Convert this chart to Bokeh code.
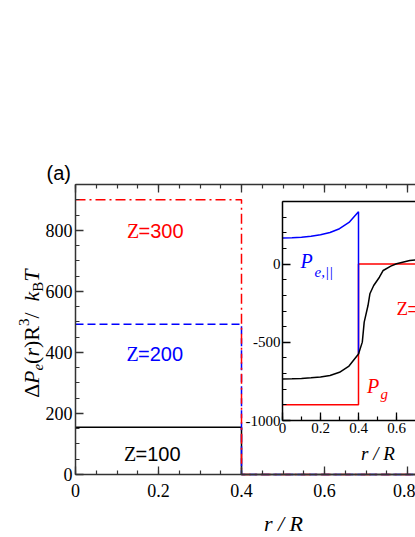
from math import pi
from bokeh.plotting import figure
from bokeh.models import (Range1d, LinearAxis, SingleIntervalTicker, FixedTicker,
                          CustomJSTickFormatter, Label)
from bokeh.embed import file_html
from bokeh.resources import INLINE

# ---------------- data ----------------
r_step = [0.0, 0.4, 0.4, 1.0]
dp_z100 = [155, 155, 0, 0]
dp_z200 = [492, 492, 0, 0]
dp_z300 = [900, 900, 0, 0]

# inset
r_par = [0.0, 0.05, 0.1, 0.15, 0.2, 0.25, 0.3, 0.35, 0.4, 0.4]
pe_par = [166, 168, 172, 178, 187, 202, 226, 266, 334, -575]
r_tot = [0.0, 0.05, 0.1, 0.15, 0.2, 0.25, 0.3, 0.35, 0.4, 0.42, 0.43, 0.45,
         0.46, 0.48, 0.51, 0.53, 0.57, 0.6, 0.67, 0.7, 0.8]
p_tot = [-734, -733, -731, -727, -722, -712, -692, -652, -575, -499, -371, -265,
         -190, -137, -84, -41, -13, 2, 23, 27, 32]
r_g = [0.0, 0.4, 0.4, 1.0]
p_g = [-900, -900, 0, 0]

main_x_lim = [0.0, 1.0]
main_y_lim = [0.0, 950.0]
inset_x_lim = [0.0, 1.0]
inset_y_lim = [-1000.0, 400.0]

z_letter = "Z"
z_values = ["=300", "=200", "=100"]

BLUE = "#0000ff"
RED = "#ff0000"
AXC = "#333333"
SERIF = "Liberation Serif"
SANS = "Liberation Sans"

W, H = 415, 537

# pixel boxes (canvas coordinates, y downwards)
M_L, M_R, M_T, M_B = 75, 490, 184, 474      # main plot box (right part is cut by the page)
I_L, I_R, I_T, I_B = 282, 472, 201, 420     # inset box


def canvas_range(d0, d1, p0, p1, total):
    k = (d1 - d0) / (p1 - p0)
    return Range1d(d0 - p0 * k, d0 + (total - p0) * k)


p = figure(width=W, height=H, x_range=Range1d(0, W), y_range=Range1d(0, H),
           output_backend="svg", toolbar_location=None,
           x_axis_type=None, y_axis_type=None,
           min_border_left=0, min_border_right=0, min_border_top=0, min_border_bottom=0,
           outline_line_color=None, background_fill_color="white",
           border_fill_color="white")
p.title = None
p.grid.visible = False
p.extra_x_ranges = {
    "mx": canvas_range(main_x_lim[0], main_x_lim[1], M_L, M_R, W),
    "ix": canvas_range(inset_x_lim[0], inset_x_lim[1], I_L, I_R, W),
}
p.extra_y_ranges = {
    "my": canvas_range(main_y_lim[0], main_y_lim[1], H - M_B, H - M_T, H),
    "iy": canvas_range(inset_y_lim[0], inset_y_lim[1], H - I_B, H - I_T, H),
}

fmt_dec = CustomJSTickFormatter(code="return Math.abs(tick) < 1e-9 ? '0' : tick.toFixed(1);")
fmt_int = CustomJSTickFormatter(code="return tick.toFixed(0);")


def make_axis(xr, yr, loc, bounds, ticker, size, standoff, color=AXC, labels=True):
    ax = LinearAxis(x_range_name=xr, y_range_name=yr, fixed_location=loc,
                    bounds=bounds, ticker=ticker)
    ax.axis_line_color = color
    ax.axis_line_width = 1.5
    ax.major_tick_line_color = color
    ax.minor_tick_line_color = color
    ax.major_tick_line_width = 1.3
    ax.minor_tick_line_width = 1.2
    ax.major_tick_in = 8
    ax.major_tick_out = 0
    ax.minor_tick_in = 4
    ax.minor_tick_out = 0
    ax.major_label_text_font = SERIF
    ax.major_label_text_font_style = "normal"
    ax.major_label_text_font_size = size
    ax.major_label_text_color = "black" if labels else None
    ax.major_label_standoff = standoff
    return ax


# ----- main plot lines -----
kw_m = dict(x_range_name="mx", y_range_name="my", line_width=1.5)
p.line(r_step, dp_z100, line_color="black", **kw_m)
p.line(r_step, dp_z200, line_color=BLUE, line_dash="8 4", **kw_m)
p.line(r_step, dp_z300, line_color=RED, line_dash="10 4 2 4", **kw_m)

# ----- main axes -----
xt = SingleIntervalTicker(interval=0.2, num_minor_ticks=4)
yt = SingleIntervalTicker(interval=200, num_minor_ticks=4)
ax_b = make_axis("mx", "my", main_y_lim[0], tuple(main_x_lim), xt, "18px", 9)
ax_b.formatter = fmt_dec
ax_l = make_axis("mx", "my", main_x_lim[0], tuple(main_y_lim), yt, "18px", 3)
ax_l.formatter = fmt_int
ax_t = make_axis("mx", "my", main_y_lim[1], tuple(main_x_lim),
                 SingleIntervalTicker(interval=0.2, num_minor_ticks=4), "1px", 0, labels=False)
p.add_layout(ax_b, "below")
p.add_layout(ax_l, "left")
p.add_layout(ax_t, "above")

# ----- inset -----
kw_i = dict(x_range_name="ix", y_range_name="iy")
p.quad(left=inset_x_lim[0], right=inset_x_lim[1], bottom=inset_y_lim[0],
       top=inset_y_lim[1], fill_color="white", line_color=None, **kw_i)
p.line(r_g, p_g, line_color=RED, line_width=1.5, **kw_i)
p.line(r_par, pe_par, line_color=BLUE, line_width=1.5, **kw_i)
p.line(r_tot, p_tot, line_color="black", line_width=1.5, **kw_i)

ix_b = make_axis("ix", "iy", inset_y_lim[0], tuple(inset_x_lim),
                 SingleIntervalTicker(interval=0.2, num_minor_ticks=2), "15px", 2, "black")
ix_b.formatter = fmt_dec
iy_l = make_axis("ix", "iy", inset_x_lim[0], tuple(inset_y_lim),
                 SingleIntervalTicker(interval=500, num_minor_ticks=5), "15px", 2, "black")
iy_l.formatter = fmt_int
ix_t = make_axis("ix", "iy", inset_y_lim[1], tuple(inset_x_lim), FixedTicker(ticks=[]),
                 "1px", 0, "black", labels=False)
p.add_layout(ix_b, "below")
p.add_layout(iy_l, "left")
p.add_layout(ix_t, "above")


# ----- texts (canvas pixel coordinates, y measured from the top) -----
def lab(x, y, text, font=SERIF, size="20px", color="black", style="normal",
        align="left", angle=0.0, baseline="alphabetic"):
    p.add_layout(Label(x=x, y=H - y, text=text, text_font=font, text_font_size=size,
                       text_color=color, text_font_style=style, text_align=align,
                       text_baseline=baseline, angle=angle))


for (zx, zy, num, col) in [(126.5, 230, z_values[0], RED),
                           (126.0, 353, z_values[1], BLUE),
                           (123.5, 453, z_values[2], "black")]:
    lab(zx, zy, z_letter, SERIF, "20px", col)
    lab(zx + 11.5, zy, num, SANS, "20px", col)

lab(46, 172, "(a)", SANS, "20px")
lab(283, 523, "r / R", SERIF, "22px", style="italic", align="center")

# rotated y-axis title, piece by piece (anchored at each piece's centre)
pieces = [("Δ", "normal", 22, 0, 0.612),
          ("P", "italic", 22, 0, 0.611),
          ("e", "italic", 15, 5, 0.444),
          ("(", "normal", 22, 0, 0.333),
          ("r", "italic", 22, 0, 0.389),
          (")", "normal", 22, 0, 0.333),
          ("R", "normal", 22, 0, 0.667),
          ("3", "normal", 15, -9, 0.5),
          (" / ", "normal", 22, 0, 0.778),
          ("k", "italic", 22, 0, 0.444),
          ("B", "normal", 15, 5, 0.667),
          ("T", "italic", 22, 0, 0.556)]
cur = 397.0
base_x = 38.0
for txt, st, sz, dx, w in pieces:
    cx = base_x + dx - 0.34 * sz
    cy = cur - w * sz / 2.0
    lab(cx, cy, txt, SERIF, f"{sz}px", style=st, angle=pi / 2,
        align="center", baseline="middle")
    cur -= w * sz

lab(300, 260, "P", SERIF, "20px", BLUE, "italic")
lab(314, 271.5, "e,||", SERIF, "15px", BLUE, "italic")
lab(366.5, 385, "P", SERIF, "20px", RED, "italic")
lab(380, 393, "g", SERIF, "15px", RED, "italic")
lab(396, 308, z_letter, SERIF, "19px", RED)
lab(407, 308, z_values[0], SANS, "19px", RED)
lab(377.5, 452.5, "r / R", SERIF, "19px", style="italic", align="center")

open("out.html", "w").write(file_html(p, INLINE))
